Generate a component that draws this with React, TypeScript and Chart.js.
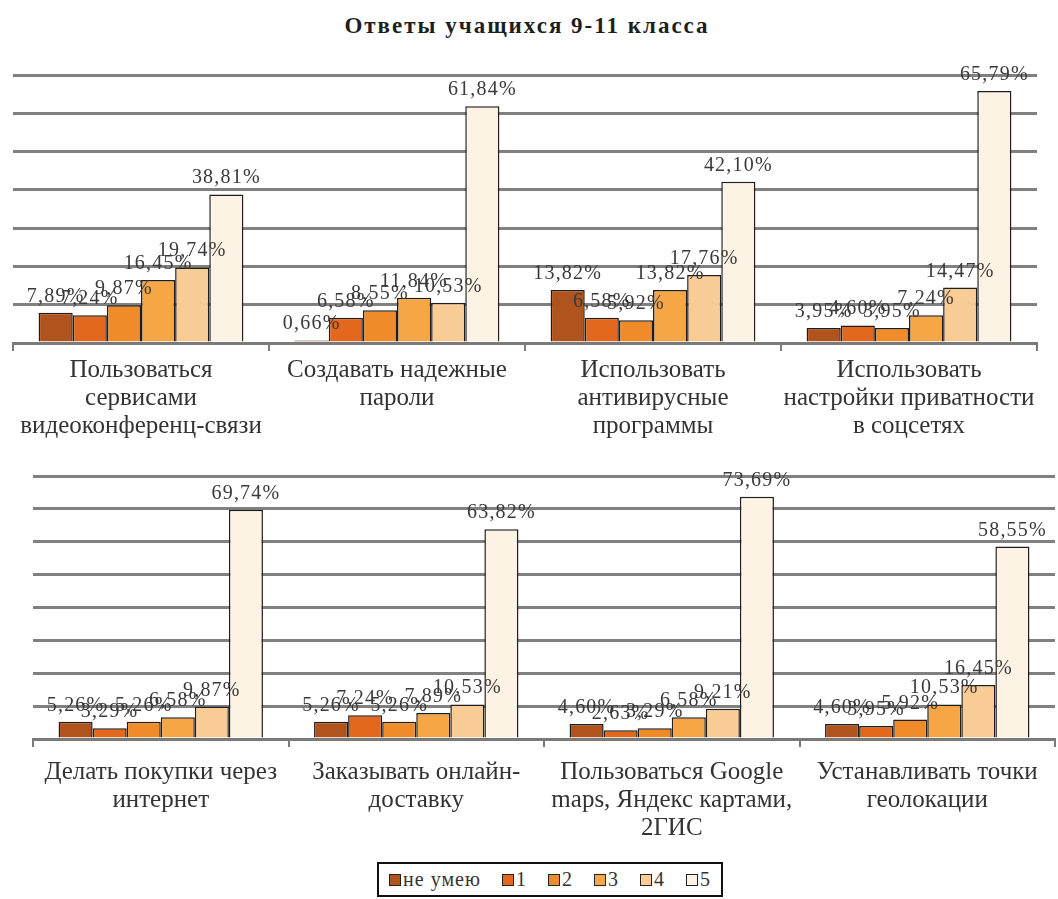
import React, { useEffect, useRef } from "react";
import { Chart, registerables } from "chart.js";

Chart.register(...registerables);

// Series (answer levels) and their colours
const seriesNames = ["не умею", "1", "2", "3", "4", "5"];
const seriesColors = ["#b0531c", "#e3671c", "#f08b2a", "#f6a645", "#f9cb95", "#fdf3e4"];

// Upper panel categories
const topCategories = [
  ["Пользоваться", "сервисами", "видеоконференц-связи"],
  ["Создавать надежные", "пароли"],
  ["Использовать", "антивирусные", "программы"],
  ["Использовать", "настройки приватности", "в соцсетях"],
];

// Lower panel categories
const bottomCategories = [
  ["Делать покупки через", "интернет"],
  ["Заказывать онлайн-", "доставку"],
  ["Пользоваться Google", "maps, Яндекс картами,", "2ГИС"],
  ["Устанавливать точки", "геолокации"],
];

// Upper panel values, %
const topNeUmeyu = [7.89, 0.66, 13.82, 3.95];
const top1 = [7.24, 6.58, 6.58, 4.6];
const top2 = [9.87, 8.55, 5.92, 3.95];
const top3 = [16.45, 11.84, 13.82, 7.24];
const top4 = [19.74, 10.53, 17.76, 14.47];
const top5 = [38.81, 61.84, 42.1, 65.79];

// Lower panel values, %
const bottomNeUmeyu = [5.26, 5.26, 4.6, 4.6];
const bottom1 = [3.29, 7.24, 2.63, 3.95];
const bottom2 = [5.26, 5.26, 3.29, 5.92];
const bottom3 = [6.58, 7.89, 6.58, 10.53];
const bottom4 = [9.87, 10.53, 9.21, 16.45];
const bottom5 = [69.74, 63.82, 73.69, 58.55];

const topMax = 70;
const bottomMax = 80;
const yStep = 10;

const SERIF = "'Liberation Serif', 'Times New Roman', serif";

const formatPct = (v: number) => v.toFixed(2).replace(".", ",") + "%";

// Draws the percentage above every bar
const valueLabels = {
  id: "valueLabels",
  afterDatasetsDraw(chart: any) {
    const ctx = chart.ctx;
    ctx.save();
    ctx.font = `20px ${SERIF}`;
    (ctx as any).letterSpacing = "1.2px";
    ctx.fillStyle = "#3a3a3a";
    ctx.textAlign = "center";
    ctx.textBaseline = "alphabetic";
    chart.data.datasets.forEach((ds: any, i: number) => {
      const meta = chart.getDatasetMeta(i);
      meta.data.forEach((bar: any, j: number) => {
        ctx.fillText(formatPct(ds.data[j]), bar.x, bar.y - 11);
      });
    });
    ctx.restore();
  },
};

type PanelProps = {
  categories: string[][];
  series: number[][];
  max: number;
  top: number;
  height: number;
  padTop: number;
  padLeft: number;
  padRight: number;
  axisHeight: number;
  labelGap: number;
};

function Panel({ categories, series, max, top, height, padTop, padLeft, padRight, axisHeight, labelGap }: PanelProps) {
  const ref = useRef<HTMLCanvasElement | null>(null);

  useEffect(() => {
    if (!ref.current) return;
    const chart = new Chart(ref.current, {
      type: "bar",
      data: {
        labels: categories,
        datasets: series.map((data, i) => ({
          label: seriesNames[i],
          data,
          backgroundColor: seriesColors[i],
          borderColor: "#1e1e1e",
          borderWidth: 1.5,
          categoryPercentage: 0.8,
          barPercentage: 1.0,
        })),
      },
      options: {
        animation: false,
        responsive: false,
        maintainAspectRatio: false,
        layout: { padding: { top: padTop, left: padLeft, right: padRight, bottom: 0 } },
        plugins: {
          legend: { display: false },
          tooltip: { enabled: false },
          title: { display: false },
        },
        scales: {
          x: {
            offset: true,
            grid: {
              offset: true,
              drawOnChartArea: false,
              drawTicks: true,
              tickLength: 8,
              color: "#7a7a7a",
              lineWidth: 2,
            },
            border: { display: true, color: "#7a7a7a", width: 3 },
            ticks: {
              color: "#333333",
              font: { family: SERIF, size: 25, lineHeight: 1.12 },
              maxRotation: 0,
              minRotation: 0,
              autoSkip: false,
              padding: labelGap,
            },
            afterFit: (s: any) => {
              s.height = axisHeight;
            },
          },
          y: {
            min: 0,
            max,
            ticks: { display: false, stepSize: yStep },
            grid: { color: "#808080", lineWidth: 3, drawTicks: false },
            border: { display: false },
            afterFit: (s: any) => {
              s.width = 0;
            },
          },
        },
      },
      plugins: [valueLabels],
    });
    return () => chart.destroy();
  }, []);

  return (
    <canvas
      ref={ref}
      width={1058}
      height={height}
      style={{ position: "absolute", left: 0, top, width: 1058, height }}
    />
  );
}

function Legend() {
  return (
    <div
      style={{
        position: "absolute",
        left: 377,
        top: 862,
        width: 346,
        height: 35,
        boxSizing: "border-box",
        border: "2px solid #111",
        display: "flex",
        alignItems: "center",
        justifyContent: "center",
        gap: 21,
        fontFamily: SERIF,
        fontSize: 20,
        letterSpacing: 1,
        color: "#333",
        background: "#fff",
      }}
    >
      {seriesNames.map((name, i) => (
        <span key={name} style={{ display: "flex", alignItems: "center" }}>
          <span
            style={{
              display: "inline-block",
              width: 10,
              height: 10,
              background: seriesColors[i],
              border: "1.5px solid #222",
              marginRight: 2,
            }}
          />
          {name}
        </span>
      ))}
    </div>
  );
}

export default function App() {
  return (
    <div style={{ position: "absolute", left: 0, top: 0, width: 1058, height: 899, background: "#fff" }}>
      <div
        style={{
          position: "absolute",
          top: 13,
          left: 0,
          width: 1054,
          textAlign: "center",
          fontFamily: SERIF,
          fontWeight: "bold",
          fontSize: 23,
          letterSpacing: 2,
          color: "#1e1e1e",
        }}
      >
        Ответы учащихся 9-11 класса
      </div>
      <Panel
        categories={topCategories}
        series={[topNeUmeyu, top1, top2, top3, top4, top5]}
        max={topMax}
        top={0}
        height={460}
        padTop={75}
        padLeft={13}
        padRight={21}
        axisHeight={117}
        labelGap={5}
      />
      <Panel
        categories={bottomCategories}
        series={[bottomNeUmeyu, bottom1, bottom2, bottom3, bottom4, bottom5]}
        max={bottomMax}
        top={460}
        height={400}
        padTop={16}
        padLeft={33}
        padRight={3}
        axisHeight={121}
        labelGap={11}
      />
      <Legend />
    </div>
  );
}
